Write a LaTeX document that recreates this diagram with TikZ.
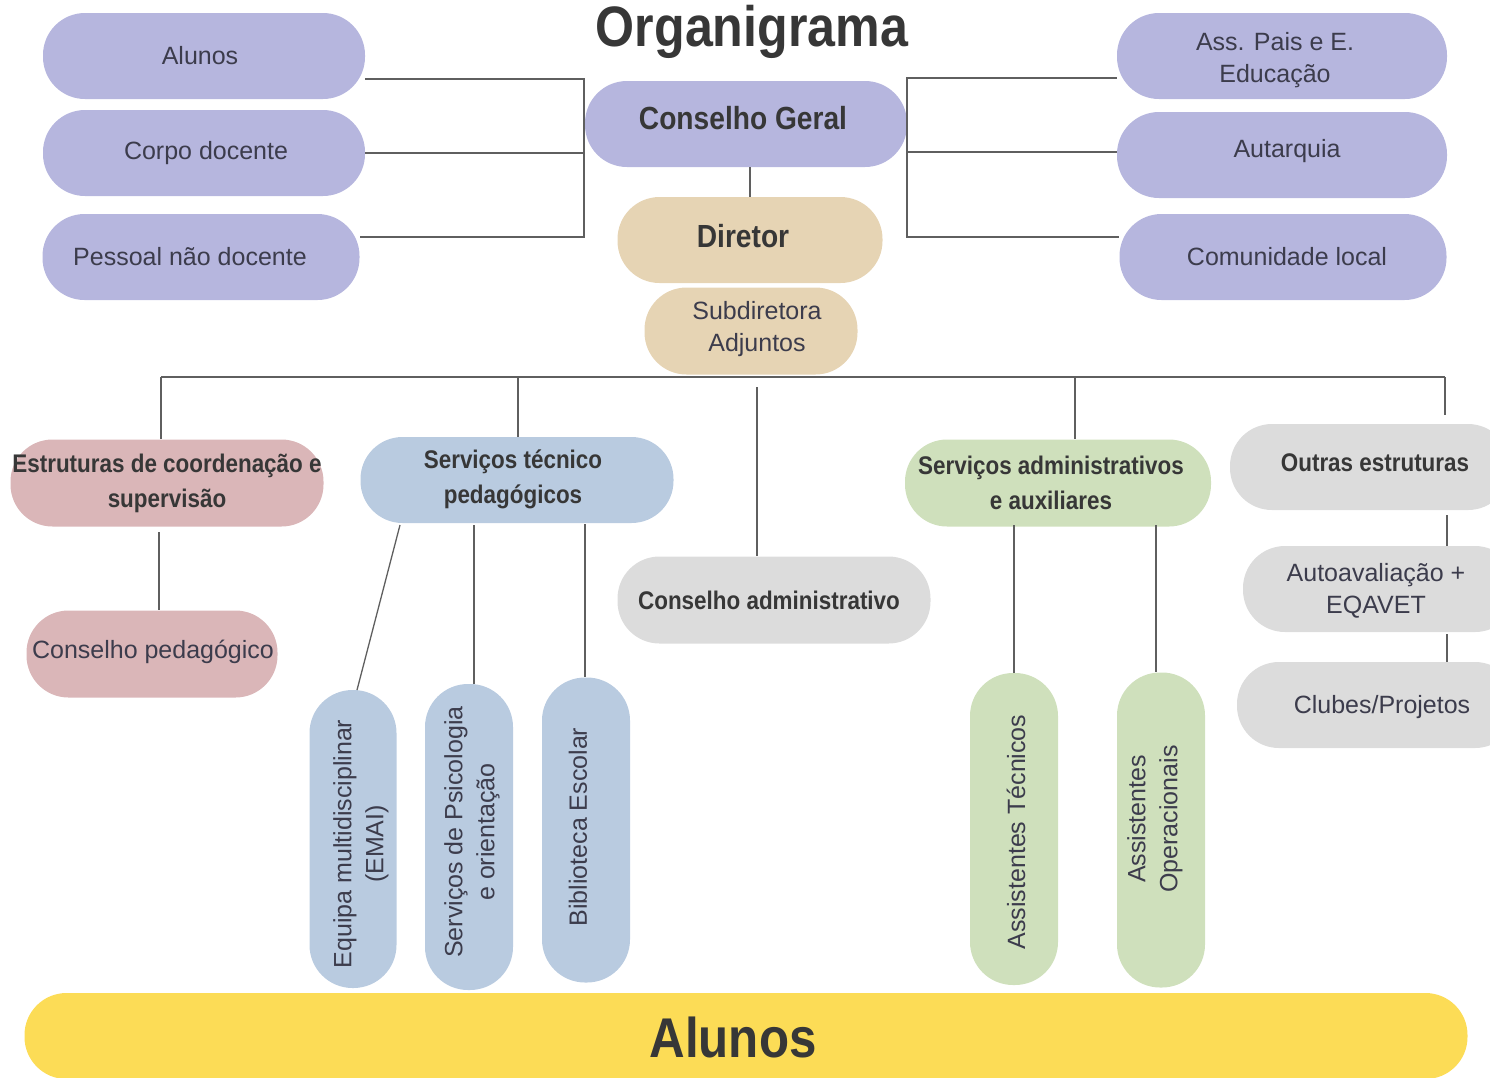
\documentclass[tikz,border=0pt]{standalone}
\usepackage{fontspec}
\setmainfont{Liberation Sans}
\newfontfamily\condf[FakeStretch=0.88]{Liberation Sans}
\definecolor{cpur}{RGB}{182,182,222}
\definecolor{cbei}{RGB}{230,212,180}
\definecolor{cpink}{RGB}{218,182,184}
\definecolor{cblue}{RGB}{185,203,224}
\definecolor{cgreen}{RGB}{207,224,188}
\definecolor{cgray}{RGB}{220,220,220}
\definecolor{cyel}{RGB}{252,220,86}
\definecolor{ctxt}{RGB}{60,60,76}
\definecolor{chdr}{RGB}{55,55,55}
\definecolor{cline}{RGB}{95,95,95}
\begin{document}
\begin{tikzpicture}[x=1pt,y=-1pt,
  pill/.style={rectangle, draw=none, rounded corners=42pt, inner sep=0pt},
  reg/.style={font=\fontsize{25}{32}\selectfont, text=ctxt, align=center, inner sep=0pt},
  hdr/.style={font=\condf\bfseries\fontsize{25.5}{35}\selectfont, text=chdr, align=center, inner sep=0pt},
  big/.style={font=\condf\bfseries\fontsize{32}{35}\selectfont, text=chdr, align=center, inner sep=0pt},
  conn/.style={draw=cline, line width=1.3pt}]
\useasboundingbox (0,0) rectangle (1490,1077);
\clip (0,0) rectangle (1490,1077);

% title
\node[font=\condf\bfseries\fontsize{57}{60}\selectfont, text=chdr, inner sep=0pt] (title) at (752,32) {Organigrama};

% shapes
\node[pill, fill=cpur, minimum width=322, minimum height=86] (al) at (204,56) {};
\node[pill, fill=cpur, minimum width=322, minimum height=86] (cd) at (204,153) {};
\node[pill, fill=cpur, minimum width=317, minimum height=86] (pnd) at (201,257) {};
\node[pill, fill=cpur, minimum width=322, minimum height=86] (cg) at (746,124) {};
\node[pill, fill=cbei, minimum width=265, minimum height=86] (dir) at (750,240) {};
\node[pill, fill=cbei, minimum width=213, minimum height=87] (sub) at (751,331) {};
\node[pill, fill=cpur, minimum width=330, minimum height=86] (ass) at (1282,56) {};
\node[pill, fill=cpur, minimum width=330, minimum height=86] (aut) at (1282,155) {};
\node[pill, fill=cpur, minimum width=327, minimum height=86] (com) at (1283,257) {};
\node[pill, fill=cpink, minimum width=313, minimum height=87] (est) at (167,483) {};
\node[pill, fill=cpink, minimum width=251, minimum height=87] (cped) at (152,654) {};
\node[pill, fill=cblue, minimum width=313, minimum height=86] (stp) at (517,480) {};
\node[pill, fill=cblue, minimum width=87, minimum height=298, rounded corners=43pt] (emai) at (353,839) {};
\node[pill, fill=cblue, minimum width=88, minimum height=306, rounded corners=43pt] (spo) at (469,837) {};
\node[pill, fill=cblue, minimum width=88, minimum height=305, rounded corners=43pt] (bib) at (586,830) {};
\node[pill, fill=cgray, minimum width=313, minimum height=87] (cadm) at (774,600) {};
\node[pill, fill=cgreen, minimum width=306, minimum height=87] (sadm) at (1058,483) {};
\node[pill, fill=cgreen, minimum width=88, minimum height=312, rounded corners=43pt] (at) at (1014,829) {};
\node[pill, fill=cgreen, minimum width=88, minimum height=315, rounded corners=43pt] (ao) at (1161,830) {};
\node[pill, fill=cgray, minimum width=280, minimum height=86] (out) at (1370,467) {};
\node[pill, fill=cgray, minimum width=274, minimum height=86] (auto) at (1380,589) {};
\node[pill, fill=cgray, minimum width=280, minimum height=86] (clu) at (1377,705) {};
\node[pill, fill=cyel, minimum width=1443, minimum height=86] (alb) at (746,1036) {};

% texts
\node[reg] (al-t) at (200,56) {Alunos};
\node[reg] (cd-t) at (206,153) {Corpo docente};
\node[reg] (pnd-t) at (190,257) {Pessoal não docente};
\node[big] (cg-t) at (743,118) {Conselho Geral};
\node[big] (dir-t) at (743,236) {Diretor};
\node[reg] (sub-t) at (757,329) {Subdiretora\\Adjuntos};
\node[reg] (ass-t) at (1275,60) {Ass. Pais e E.\\Educação};
\node[reg] (aut-t) at (1287,151) {Autarquia};
\node[reg] (com-t) at (1287,257) {Comunidade local};
\node[hdr] (est-t) at (167,483) {Estruturas de coordenação e\\supervisão};
\node[reg] (cped-t) at (153,652) {Conselho pedagógico};
\node[hdr] (stp-t) at (513,479) {Serviços técnico\\pedagógicos};
\node[reg, rotate=90] (emai-t) at (361,844) {Equipa multidisciplinar\\(EMAI)};
\node[reg, rotate=90] (spo-t) at (472,832) {Serviços de Psicologia\\e orientação};
\node[reg, rotate=90] (bib-t) at (578,827) {Biblioteca Escolar};
\node[hdr] (cadm-t) at (769,600) {Conselho administrativo};
\node[hdr] (sadm-t) at (1051,483) {Serviços administrativos\\e auxiliares};
\node[reg, rotate=90] (at-t) at (1016,832) {Assistentes Técnicos};
\node[reg, rotate=90] (ao-t) at (1155,819) {Assistentes\\Operacionais};
\node[hdr] (out-t) at (1375,463) {Outras estruturas};
\node[reg] (auto-t) at (1376,591) {Autoavaliação +\\EQAVET};
\node[reg] (clu-t) at (1382,707) {Clubes/Projetos};
\node[font=\condf\bfseries\fontsize{56}{60}\selectfont, text=chdr, inner sep=0pt] (alb-t) at (733,1037) {Alunos};

% left bracket
\coordinate (lvT) at (584,79);
\coordinate (lvB) at (584,237);
\draw[conn] (al.east |- lvT) -- (lvT) -- (lvB) -- (pnd.east |- lvB);
\draw[conn] (cd.east) -- (cd.east -| lvT);
% right bracket
\coordinate (rvT) at (907,78);
\coordinate (rvB) at (907,237);
\draw[conn] (ass.west |- rvT) -- (rvT) -- (rvB) -- (com.west |- rvB);
\draw[conn] (aut.west |- 0,152) -- (rvT |- 0,152);
% conselho geral - diretor
\draw[conn] (dir.north |- cg.south) -- (dir.north);

% bus
\coordinate (b1) at (161,377);
\coordinate (b2) at (518,377);
\coordinate (b3) at (757,387);
\coordinate (b4) at (1075,377);
\coordinate (b5) at (1445,377);
\coordinate (b5e) at (1445,415);
\draw[conn] (b1) -- (b5);
\draw[conn] (b1) -- (b1 |- est.north);
\draw[conn] (b2) -- (b2 |- stp.north);
\draw[conn] (b3) -- (b3 |- cadm.north);
\draw[conn] (b4) -- (b4 |- sadm.north);
\draw[conn] (b5) -- (b5e);

% estruturas - conselho pedagogico
\coordinate (ec) at (159,532);
\draw[conn] (ec) -- (ec |- cped.north);

% servicos tecnico pedagogicos children
\coordinate (s1) at (400,525);
\coordinate (s1e) at (357,690);
\coordinate (s2) at (474,525);
\coordinate (s3) at (585,524);
\draw[conn] (s1) -- (s1e);
\draw[conn] (s2) -- (s2 |- spo.north);
\draw[conn] (s3) -- (s3 |- bib.north);

% servicos administrativos children
\coordinate (a1) at (1014,525);
\coordinate (a2) at (1156,525);
\draw[conn] (a1) -- (a1 |- at.north);
\draw[conn] (a2) -- (a2 |- ao.north);

% outras estruturas chain
\coordinate (o1) at (1447,515);
\coordinate (o2) at (1447,634);
\draw[conn] (o1) -- (o1 |- auto.north);
\draw[conn] (o2) -- (o2 |- clu.north);
\end{tikzpicture}
\end{document}
